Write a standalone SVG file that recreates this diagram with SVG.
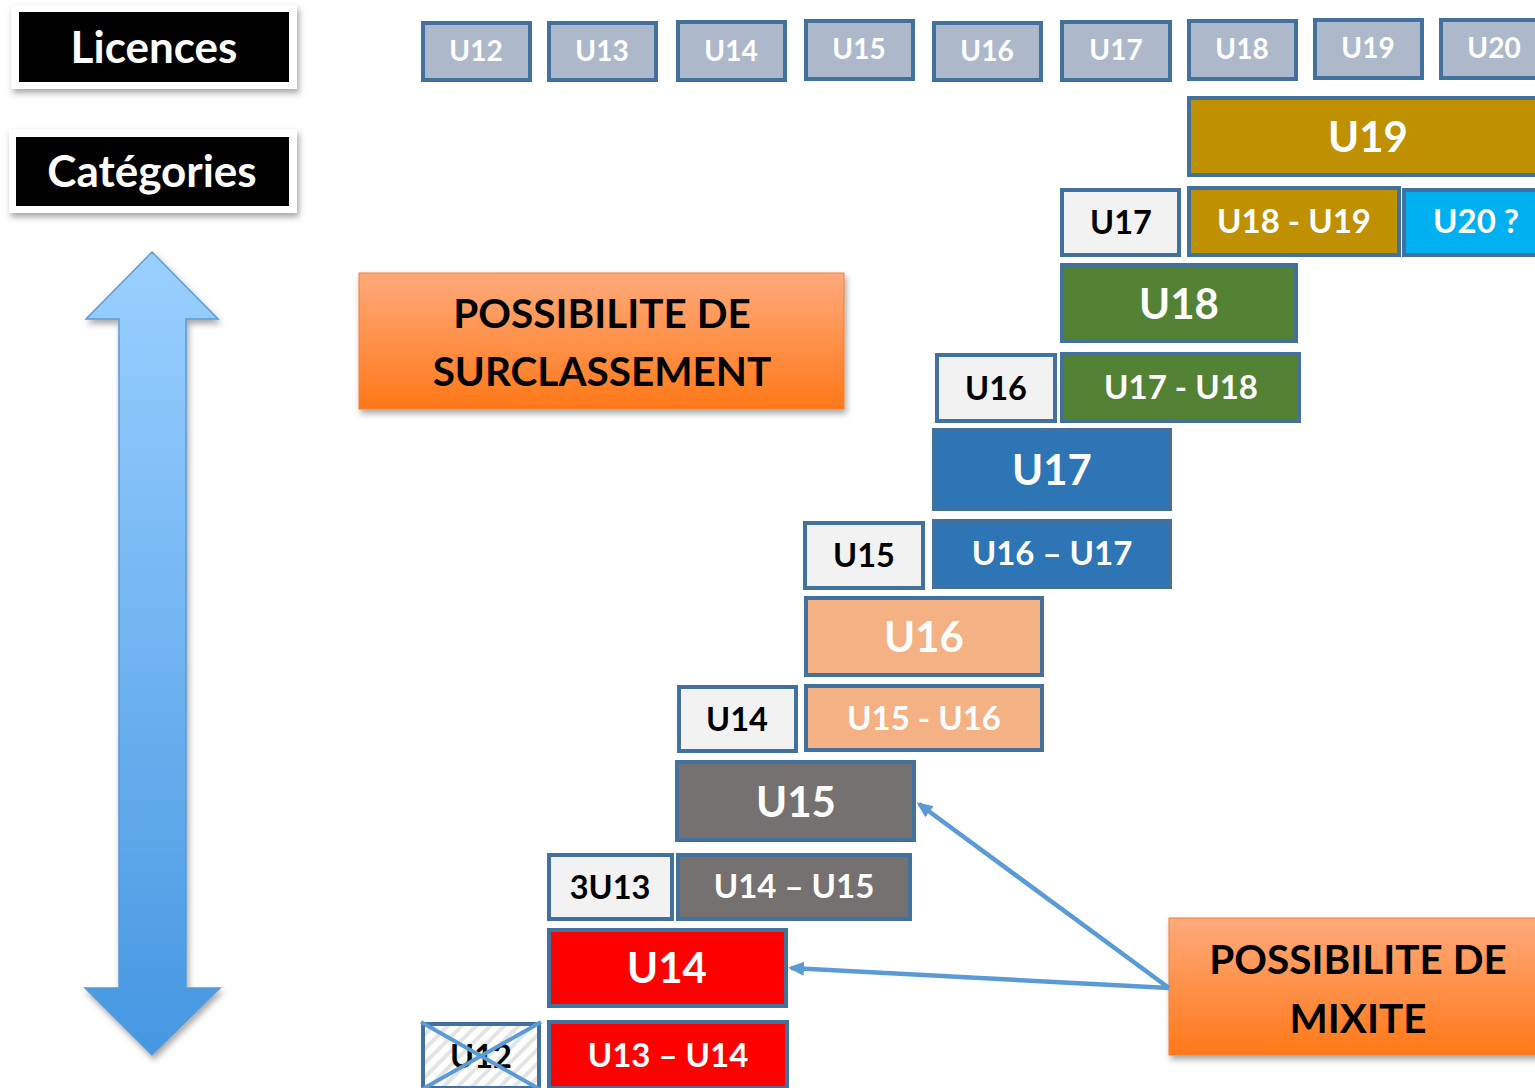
<svg xmlns="http://www.w3.org/2000/svg" width="1535" height="1088" viewBox="0 0 1535 1088">
<defs>
<style>
text{font-family:Lato,"Liberation Sans",sans-serif;font-weight:bold;text-anchor:middle}
.b{stroke:#41719c;stroke-width:4}
.lic{fill:#adb9ca}
.lt{fill:#fff;font-size:28px}
.big{fill:#fff;font-size:42px}
.mid{fill:#fff;font-size:33px}
.dk{fill:#000;font-size:32.5px}
.hd{fill:#fff;font-size:44px}
.or{fill:#000;font-size:40.5px}
.conn{stroke:#5b9bd5;stroke-width:4.5;fill:none}
</style>
<linearGradient id="og" x1="0" y1="0" x2="0" y2="1">
<stop offset="0" stop-color="#ffaa7c"/><stop offset="1" stop-color="#ff7818"/>
</linearGradient>
<linearGradient id="ag" x1="0" y1="0" x2="0" y2="1">
<stop offset="0" stop-color="#9ad0ff"/><stop offset="1" stop-color="#4597e2"/>
</linearGradient>
<pattern id="hatch" width="10" height="10" patternUnits="userSpaceOnUse" patternTransform="rotate(45)">
<rect width="10" height="10" fill="#ffffff"/><rect width="4" height="10" fill="#e4e4e4"/>
</pattern>
<filter id="sh" x="-10%" y="-10%" width="125%" height="130%">
<feDropShadow dx="2" dy="4" stdDeviation="3" flood-color="#000" flood-opacity="0.35"/>
</filter>
<marker id="ah" markerWidth="16" markerHeight="14" refX="13" refY="7" orient="auto" markerUnits="userSpaceOnUse">
<path d="M0,0 L16,7 L0,14 Z" fill="#5b9bd5"/>
</marker>
</defs>
<rect width="1535" height="1088" fill="#fff"/>

<g id="licences">
<rect x="11" y="5" width="286" height="84" fill="#fff" filter="url(#sh)"/>
<rect x="19" y="12" width="270" height="70" fill="#000"/>
<text x="154" y="63" class="hd">Licences</text>
</g>
<g id="categories">
<rect x="9" y="129" width="288" height="84" fill="#fff" filter="url(#sh)"/>
<rect x="16" y="137" width="273" height="69" fill="#000"/>
<text x="152" y="187" class="hd">Catégories</text>
</g>

<g id="double-arrow">
<path d="M152,252 L218,319 L186,319 L186,988 L220,988 L152,1055 L85,988 L119,988 L119,319 L86,319 Z" fill="url(#ag)" stroke="#5b9bd5" stroke-width="1.5" filter="url(#sh)"/>
</g>

<g id="top-licences">
<g id="lic-u12"><rect x="423" y="23" width="107" height="57" class="b lic"/><text x="476" y="61" class="lt">U12</text></g>
<g id="lic-u13"><rect x="549" y="23" width="107" height="57" class="b lic"/><text x="602" y="61" class="lt">U13</text></g>
<g id="lic-u14"><rect x="678" y="22" width="107" height="58" class="b lic"/><text x="731" y="61" class="lt">U14</text></g>
<g id="lic-u15"><rect x="806" y="21" width="107" height="58" class="b lic"/><text x="859" y="59" class="lt">U15</text></g>
<g id="lic-u16"><rect x="934" y="23" width="107" height="57" class="b lic"/><text x="987" y="61" class="lt">U16</text></g>
<g id="lic-u17"><rect x="1062" y="22" width="108" height="58" class="b lic"/><text x="1116" y="60" class="lt">U17</text></g>
<g id="lic-u18"><rect x="1189" y="21" width="107" height="58" class="b lic"/><text x="1242" y="59" class="lt">U18</text></g>
<g id="lic-u19"><rect x="1315" y="20" width="107" height="58" class="b lic"/><text x="1368" y="58" class="lt">U19</text></g>
<g id="lic-u20"><rect x="1441" y="20" width="107" height="58" class="b lic"/><text x="1494" y="58" class="lt">U20</text></g>
</g>

<g id="cat-u19"><rect x="1189" y="98" width="360" height="77" class="b" fill="#bf9000"/><text x="1368" y="152" class="big">U19</text></g>
<g id="cat-u17-l"><rect x="1062" y="190" width="117" height="65" class="b" fill="#f2f2f2"/><text x="1121" y="234" class="dk">U17</text></g>
<g id="cat-u18-u19"><rect x="1189" y="188" width="210" height="67" class="b" fill="#bf9000"/><text x="1294" y="233" class="mid">U18 - U19</text></g>
<g id="cat-u20"><rect x="1404" y="190" width="140" height="65" class="b" fill="#00b0f0"/><text x="1476" y="233" class="mid">U20 ?</text></g>
<g id="cat-u18"><rect x="1062" y="265" width="234" height="76" class="b" fill="#548235"/><text x="1179" y="319" class="big">U18</text></g>
<g id="cat-u16-l"><rect x="937" y="355" width="118" height="66" class="b" fill="#f2f2f2"/><text x="996" y="400" class="dk">U16</text></g>
<g id="cat-u17-u18"><rect x="1062" y="354" width="237" height="67" class="b" fill="#548235"/><text x="1181" y="399" class="mid">U17 - U18</text></g>
<g id="cat-u17"><rect x="934" y="430" width="236" height="79" class="b" fill="#2e75b6"/><text x="1052" y="485" class="big">U17</text></g>
<g id="cat-u15-l"><rect x="805" y="523" width="118" height="65" class="b" fill="#f2f2f2"/><text x="864" y="567" class="dk">U15</text></g>
<g id="cat-u16-u17"><rect x="934" y="521" width="236" height="66" class="b" fill="#2e75b6"/><text x="1052" y="565" class="mid">U16 – U17</text></g>
<g id="cat-u16"><rect x="806" y="598" width="236" height="77" class="b" fill="#f4b183"/><text x="924" y="652" class="big">U16</text></g>
<g id="cat-u14-l"><rect x="679" y="687" width="117" height="64" class="b" fill="#f2f2f2"/><text x="737" y="731" class="dk">U14</text></g>
<g id="cat-u15-u16"><rect x="806" y="686" width="236" height="64" class="b" fill="#f4b183"/><text x="924" y="730" class="mid">U15 - U16</text></g>
<g id="cat-u15"><rect x="677" y="762" width="237" height="78" class="b" fill="#767171"/><text x="796" y="817" class="big">U15</text></g>
<g id="cat-3u13"><rect x="549" y="855" width="123" height="64" class="b" fill="#f2f2f2"/><text x="610" y="899" class="dk">3U13</text></g>
<g id="cat-u14-u15"><rect x="678" y="855" width="232" height="64" class="b" fill="#767171"/><text x="794" y="898" class="mid">U14 – U15</text></g>
<g id="cat-u14"><rect x="549" y="930" width="237" height="76" class="b" fill="#ff0000"/><text x="667" y="983" class="big">U14</text></g>
<g id="cat-u13-u14"><rect x="549" y="1022" width="238" height="66" class="b" fill="#ff0000"/><text x="668" y="1067" class="mid">U13 – U14</text></g>
<g id="cat-u12">
<rect x="423" y="1024" width="116" height="64" class="b" fill="url(#hatch)"/>
<text x="481" y="1068" class="dk">U12</text>
<line x1="421" y1="1022" x2="541" y2="1090" stroke="#5b9bd5" stroke-width="4"/>
<line x1="541" y1="1022" x2="421" y2="1090" stroke="#5b9bd5" stroke-width="4"/>
</g>

<g id="surclassement">
<rect x="359" y="273" width="485" height="136" fill="url(#og)" stroke="#f08030" stroke-width="1" filter="url(#sh)"/>
<text x="602" y="328" class="or">POSSIBILITE DE</text>
<text x="602" y="386" class="or">SURCLASSEMENT</text>
</g>
<g id="mixite">
<rect x="1169" y="918" width="380" height="137" fill="url(#og)" stroke="#f08030" stroke-width="1" filter="url(#sh)"/>
<text x="1358" y="974" class="or">POSSIBILITE DE</text>
<text x="1358" y="1033" class="or">MIXITE</text>
</g>

<g id="connectors">
<line x1="1169" y1="988" x2="919" y2="804" class="conn" marker-end="url(#ah)"/>
<line x1="1169" y1="988" x2="791" y2="968" class="conn" marker-end="url(#ah)"/>
</g>
</svg>
